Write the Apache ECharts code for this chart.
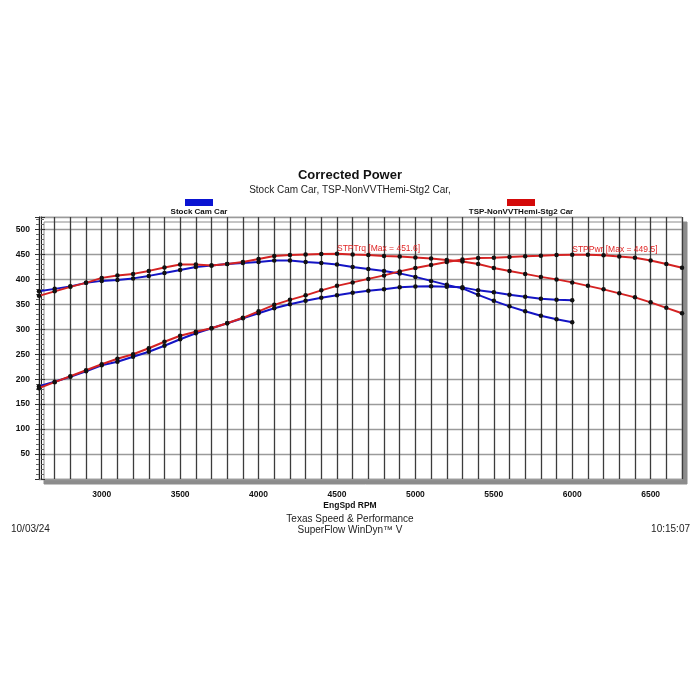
<!DOCTYPE html>
<html>
<head>
<meta charset="utf-8">
<title>Corrected Power</title>
<script src="https://cdn.jsdelivr.net/npm/echarts@6/dist/echarts.min.js"></script>
<style>
  html, body { margin: 0; padding: 0; background: #fff; }
  #chart { width: 700px; height: 700px; }
</style>
</head>
<body>
<div id="chart"></div>
<script>
// engine speed points (rpm)
const rpmStock = [2600, 2700, 2800, 2900, 3000, 3100, 3200, 3300, 3400, 3500, 3600, 3700,
  3800, 3900, 4000, 4100, 4200, 4300, 4400, 4500, 4600, 4700, 4800, 4900, 5000, 5100,
  5200, 5300, 5400, 5500, 5600, 5700, 5800, 5900, 6000];
const rpmStg2 = [2600, 2700, 2800, 2900, 3000, 3100, 3200, 3300, 3400, 3500, 3600, 3700,
  3800, 3900, 4000, 4100, 4200, 4300, 4400, 4500, 4600, 4700, 4800, 4900, 5000, 5100,
  5200, 5300, 5400, 5500, 5600, 5700, 5800, 5900, 6000, 6100, 6200, 6300, 6400, 6500,
  6600, 6700];

// Stock Cam Car
const stockTrq = [376, 381, 386, 393, 397, 399, 402, 407, 413, 419, 425, 428, 431, 433,
  435, 438, 438, 435, 433, 430, 425, 421, 417, 412, 405, 397, 389, 382, 369, 357, 346,
  336, 327, 320, 314];
const stockPwr = [186, 195, 205, 216, 228, 235, 245, 255, 267, 280, 292, 302, 312, 322,
  332, 342, 350, 357, 363, 368, 373, 377, 380, 384, 385.5, 386, 385, 384, 378, 374, 369,
  365, 361, 359, 358];

// TSP-NonVVTHemi-Stg2 Car
const stg2Trq = [367, 376, 385, 393, 403, 408, 411, 417, 424, 430, 430, 428, 431, 435,
  441, 447, 449, 450, 451, 451.6, 450, 449, 447, 446, 444, 442, 439, 436, 431, 423, 417,
  411, 405, 400, 394, 387, 380, 372, 364, 354, 343, 332];
const stg2Pwr = [182, 194, 206, 218, 230, 241, 250, 262, 275, 287, 295, 302, 312, 323,
  336, 349, 359, 368, 378, 387, 394, 401, 408, 416, 423, 429, 435, 440, 443, 443.5, 445,
  446.5, 447.5, 449, 449.3, 449.5, 448.5, 446, 443.5, 438, 431, 423.5];

const BLUE = '#1414c4';
const RED = '#d42222';
const FONT = '"Liberation Sans", Arial, sans-serif';

const chart = echarts.init(document.getElementById('chart'));

function pairs(xs, ys) {
  return xs.map((x, i) => [x, ys[i]]);
}

function curve(name, xs, ys, color, extra) {
  return Object.assign({
    name,
    type: 'line',
    data: pairs(xs, ys),
    symbol: 'circle',
    symbolSize: 4.5,
    showSymbol: true,
    itemStyle: { color: '#111' },
    lineStyle: { color, width: 2 },
    z: 3,
  }, extra || {});
}

function maxLabel(coord, text) {
  return {
    symbol: 'circle',
    symbolSize: 0,
    silent: true,
    data: [{ coord }],
    label: {
      show: true,
      formatter: text,
      position: [0, -5],
      align: 'left',
      verticalAlign: 'middle',
      color: '#e02626',
      fontFamily: FONT,
      fontSize: 8.5,
    },
  };
}

const option = {
  animation: false,
  backgroundColor: '#fff',
  textStyle: { fontFamily: FONT },
  title: [
    { text: 'Corrected Power', left: 'center', top: 164,
      textStyle: { fontSize: 13, fontWeight: 'bold', color: '#111', fontFamily: FONT } },
    { text: 'Stock Cam Car, TSP-NonVVTHemi-Stg2 Car,', left: 'center', top: 180,
      textStyle: { fontSize: 10, fontWeight: 'normal', color: '#222', fontFamily: FONT } },
    { text: 'EngSpd RPM', left: 'center', top: 496,
      textStyle: { fontSize: 8.5, fontWeight: 'bold', color: '#111', fontFamily: FONT } },
    { text: 'Texas Speed & Performance', left: 'center', top: 509,
      textStyle: { fontSize: 10, fontWeight: 'normal', color: '#222', fontFamily: FONT } },
    { text: 'SuperFlow WinDyn\u2122 V', left: 'center', top: 520,
      textStyle: { fontSize: 10, fontWeight: 'normal', color: '#222', fontFamily: FONT } },
    { text: '10/03/24', left: 6, top: 519,
      textStyle: { fontSize: 10, fontWeight: 'normal', color: '#222', fontFamily: FONT } },
    { text: '10:15:07', right: 5, top: 519,
      textStyle: { fontSize: 10, fontWeight: 'normal', color: '#222', fontFamily: FONT } },
  ],
  graphic: [
    { type: 'rect', shape: { x: 185, y: 199, width: 28, height: 7 }, style: { fill: '#0a14d2' } },
    { type: 'text', x: 199, y: 212, style: { text: 'Stock Cam Car', align: 'center', verticalAlign: 'middle',
      fill: '#111', font: 'bold 8px ' + FONT } },
    { type: 'rect', shape: { x: 507, y: 199, width: 28, height: 7 }, style: { fill: '#d40a0a' } },
    { type: 'text', x: 521, y: 212, style: { text: 'TSP-NonVVTHemi-Stg2 Car', align: 'center', verticalAlign: 'middle',
      fill: '#111', font: 'bold 8px ' + FONT } },
  ],
  grid: {
    left: 39, right: 18, top: 217, bottom: 221,
    show: true,
    backgroundColor: '#fff',
    borderColor: '#c4c4c4',
    borderWidth: 1,
    shadowColor: '#8c8c8c',
    shadowBlur: 0,
    shadowOffsetX: 5,
    shadowOffsetY: 5,
  },
  xAxis: {
    type: 'value',
    min: 2600,
    max: 6700,
    interval: 100,
    axisLine: { show: false },
    axisTick: { show: false },
    splitLine: { show: true, lineStyle: { color: '#3c3c3c', width: 1.3 } },
    axisLabel: {
      margin: 11,
      fontSize: 8.5,
      fontWeight: 'bold',
      color: '#111',
      fontFamily: FONT,
      formatter: (v) => (v % 500 === 0 && v > 2600 && v < 6700 ? String(v) : ''),
    },
  },
  yAxis: [
    {
      type: 'value',
      min: 0,
      max: 525,
      interval: 50,
      position: 'left',
      axisLine: { show: true, lineStyle: { color: '#222', width: 1 } },
      axisTick: { show: true, length: 4, lineStyle: { color: '#333' } },
      minorTick: { show: true, splitNumber: 5, length: 3, lineStyle: { color: '#666' } },
      splitLine: { show: true, lineStyle: { color: '#9a9a9a', width: 1.3 } },
      axisLabel: {
        margin: 9,
        fontSize: 8.5,
        fontWeight: 'bold',
        color: '#111',
        fontFamily: FONT,
        formatter: (v) => (v > 0 && v <= 500 && v % 50 === 0 ? String(v) : ''),
      },
    },
    {
      type: 'value',
      min: 0,
      max: 525,
      interval: 50,
      position: 'left',
      offset: -2,
      axisLine: { show: true, lineStyle: { color: '#222', width: 1 } },
      axisTick: { show: true, inside: true, length: 4, lineStyle: { color: '#333' } },
      minorTick: { show: true, splitNumber: 5, length: 3, lineStyle: { color: '#666' } },
      splitLine: { show: false },
      axisLabel: { show: false },
    },
  ],
  series: [
    curve('Stock Cam Car STPTrq', rpmStock, stockTrq, BLUE),
    curve('Stock Cam Car STPPwr', rpmStock, stockPwr, BLUE),
    curve('TSP-NonVVTHemi-Stg2 Car STPTrq', rpmStg2, stg2Trq, RED,
      { z: 4, markPoint: maxLabel([4500, 451.6], 'STPTrq [Max = 451.6]') }),
    curve('TSP-NonVVTHemi-Stg2 Car STPPwr', rpmStg2, stg2Pwr, RED,
      { z: 4, markPoint: maxLabel([6000, 449.5], 'STPPwr [Max = 449.5]') }),
  ],
};

chart.setOption(option);

window.addEventListener('resize', () => {
  chart.resize();
});
</script>
</body>
</html>
